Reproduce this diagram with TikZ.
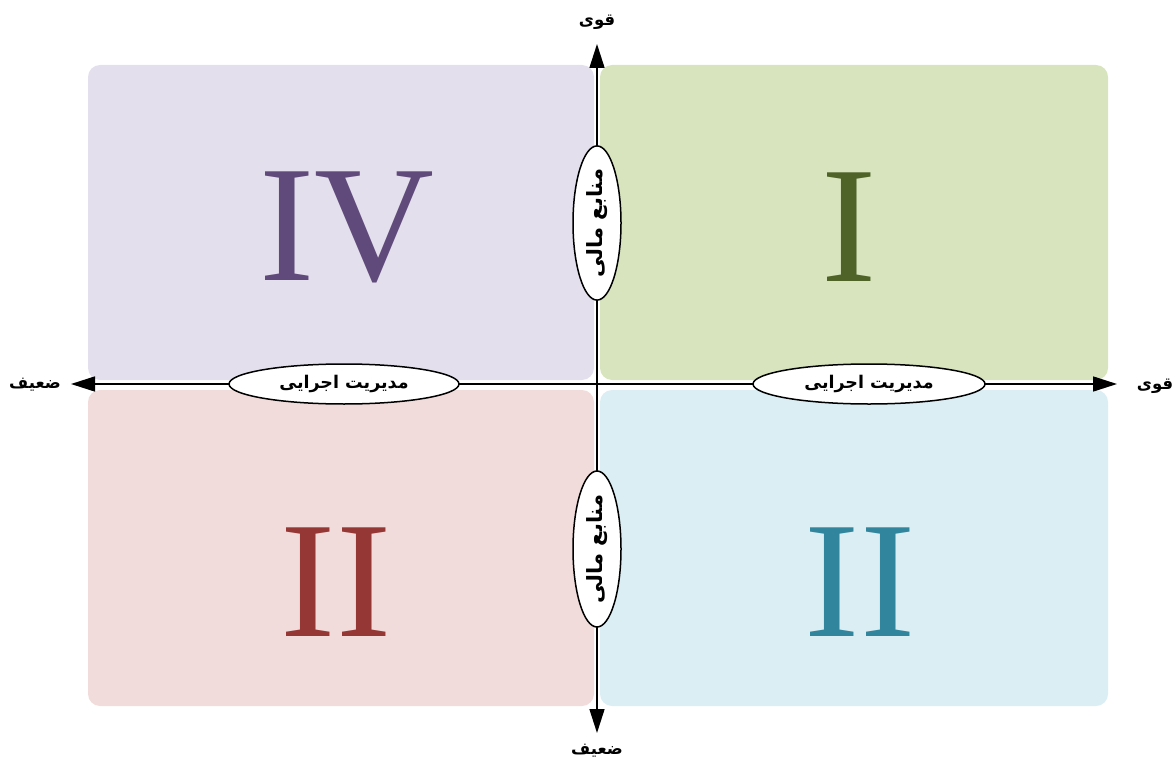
\documentclass[tikz,border=0pt]{standalone}
\usepackage{fontspec}
\usetikzlibrary{arrows.meta,shapes.geometric}
\TeXXeTstate=1
\newfontfamily\arabicfont[Script=Arabic]{DejaVu Sans}
\setmainfont{Liberation Serif}
\definecolor{cIV}{HTML}{E4DFEC}
\definecolor{cI}{HTML}{D7E4BD}
\definecolor{cIIa}{HTML}{F2DCDB}
\definecolor{cIIb}{HTML}{DBEEF4}
\definecolor{tIV}{HTML}{604A7B}
\definecolor{tI}{HTML}{4F6228}
\definecolor{tIIa}{HTML}{953735}
\definecolor{tIIb}{HTML}{31859C}
\tikzset{
  quad/.style={rounded corners=12pt},
  roman/.style={font=\fontsize{166}{166}\selectfont, inner sep=0pt},
  axis/.style={line width=1.6pt, -{Triangle[length=24pt,width=15pt]}},
  lab/.style={ellipse, draw, line width=1.5pt, fill=white, inner sep=0pt, font=\arabicfont\bfseries\fontsize{17.5}{20}\selectfont},
  vlab/.style={lab, font=\arabicfont\bfseries\fontsize{21}{24}\selectfont},
  endlab/.style={font=\arabicfont\bfseries\fontsize{16.5}{18}\selectfont, inner sep=0pt}
}
\begin{document}
\begin{tikzpicture}[x=1pt,y=-1pt]
\useasboundingbox (0,0) rectangle (1175,765);
\fill[cIV,quad] (88,65) rectangle (594,380);
\fill[cI,quad] (600,65) rectangle (1108,380);
\fill[cIIa,quad] (88,390) rectangle (594,706);
\fill[cIIb,quad] (600,390) rectangle (1108,706);
\node[roman,text=tIV] (nIV) at (347,227) {IV};
\node[roman,text=tI] (nI) at (849,227) {I};
\node[roman,text=tIIa] (nIIa) at (336,582) {II};
\node[roman,text=tIIb] (nIIb) at (860,582) {II};
\coordinate (c) at (597,384);
\coordinate (top) at (597,44);
\coordinate (bot) at (597,733);
\coordinate (left) at (71,384);
\coordinate (right) at (1117,384);
\draw[axis] (c) -- (top);
\draw[axis] (c) -- (bot);
\draw[axis] (c) -- (left);
\draw[axis] (c) -- (right);
\node[endlab] (tq) at (597,22) {\beginR قوی\endR};
\node[endlab] (bz) at (597,751) {\beginR ضعیف\endR};
\node[endlab] (lz) at (35,385) {\beginR ضعیف\endR};
\node[endlab] (rq) at (1155,386) {\beginR قوی\endR};
\node[lab, minimum width=230pt, minimum height=40pt] (e1) at (344,384) {\beginR مدیریت اجرایی\endR};
\node[lab, minimum width=232pt, minimum height=40pt] (e2) at (869,384) {\beginR مدیریت اجرایی\endR};
\node[vlab, minimum width=148pt, minimum height=48pt, rotate=90] (e3) at (597,223) {\beginR منابع مالی\endR};
\node[vlab, minimum width=156pt, minimum height=48pt, rotate=90] (e4) at (597,549) {\beginR منابع مالی\endR};
\end{tikzpicture}
\end{document}
